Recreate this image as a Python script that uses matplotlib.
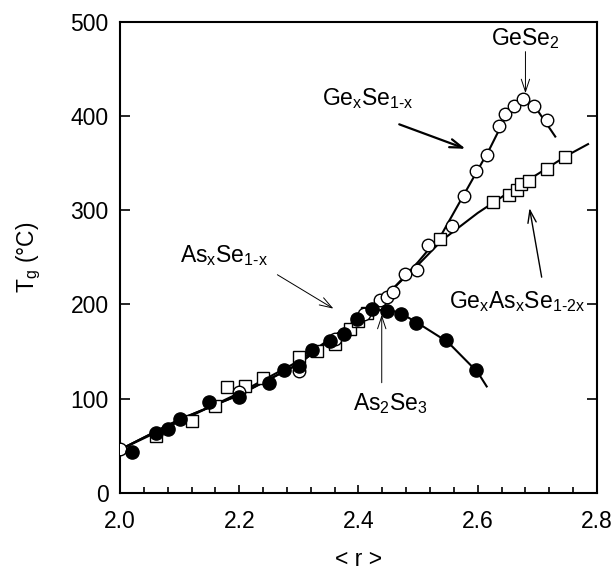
import matplotlib
matplotlib.use("Agg")
import matplotlib.pyplot as plt
import numpy as np

plt.rcParams['font.family'] = ['Liberation Sans', 'DejaVu Sans']
plt.rcParams['mathtext.fontset'] = 'custom'
plt.rcParams['mathtext.rm'] = 'Liberation Sans'
plt.rcParams['mathtext.it'] = 'Liberation Sans'

# As-Se glasses (filled circles)
asse_r = [2.02, 2.06, 2.08, 2.10, 2.15, 2.20, 2.25, 2.275, 2.30, 2.322, 2.352,
          2.375, 2.398, 2.422, 2.447, 2.472, 2.497, 2.546, 2.597]
asse_tg = [44, 64, 68, 78, 96, 102, 117, 130, 135, 152, 161,
           169, 185, 195, 193, 190, 180, 162, 130]

# Ge-Se glasses (open circles)
gese_r = [2.00, 2.20, 2.30, 2.36, 2.41, 2.436, 2.447, 2.458, 2.478, 2.498, 2.517,
          2.557, 2.577, 2.597, 2.616, 2.636, 2.645, 2.660, 2.676, 2.695, 2.716]
gese_tg = [47, 107, 129, 163, 190, 205, 208, 213, 232, 237, 263,
           283, 315, 341, 358, 389, 402, 410, 418, 410, 396]

# Ge-As-Se glasses (open squares)
geasse_r = [2.06, 2.12, 2.16, 2.18, 2.21, 2.24, 2.30, 2.33, 2.36, 2.385, 2.40, 2.415,
            2.537, 2.626, 2.653, 2.665, 2.672, 2.686, 2.716, 2.746]
geasse_tg = [60, 76, 92, 112, 113, 122, 144, 151, 158, 174, 182, 191,
             269, 309, 316, 321, 328, 331, 344, 356]

# guide curves
asse_fit_r = [2.00, 2.10, 2.20, 2.30, 2.38, 2.42, 2.445, 2.47, 2.50, 2.55, 2.60, 2.615]
asse_fit_tg = [46, 78, 104, 137, 176, 192, 195, 191, 180, 160, 128, 113]
gese_fit_r = [2.00, 2.10, 2.20, 2.30, 2.38, 2.42, 2.46, 2.50, 2.54, 2.58, 2.62, 2.65,
              2.676, 2.70, 2.73]
gese_fit_tg = [46, 78, 104, 137, 176, 195, 218, 245, 275, 320, 365, 403,
               418, 406, 378]
geasse_fit_r = [2.00, 2.20, 2.30, 2.40, 2.45, 2.50, 2.54, 2.60, 2.65, 2.70, 2.75, 2.785]
geasse_fit_tg = [46, 106, 140, 185, 212, 242, 268, 297, 318, 338, 358, 370]

fig = plt.figure(figsize=(6.12, 5.71), dpi=100)
ax = fig.add_axes([0.196, 0.1366, 0.7795, 0.8257])

ax.plot(asse_fit_r, asse_fit_tg, color='black', lw=1.5, zorder=1)
ax.plot(gese_fit_r, gese_fit_tg, color='black', lw=1.5, zorder=1)
ax.plot(geasse_fit_r, geasse_fit_tg, color='black', lw=1.5, zorder=1)

ax.plot(geasse_r, geasse_tg, 's', ms=8.5, mfc='white', mec='black', mew=1.0, ls='none', zorder=2)
ax.plot(gese_r, gese_tg, 'o', ms=9, mfc='white', mec='black', mew=1.0, ls='none', zorder=3)
ax.plot(asse_r, asse_tg, 'o', ms=9.5, mfc='black', mec='black', ls='none', zorder=4)

fs = 16.5
thin = dict(arrowstyle='->, head_length=0.9, head_width=0.3', lw=0.7, color='black')
ax.text(2.175, 252, 'As$_\\mathrm{x}$Se$_\\mathrm{1\\text{-}x}$', ha='center', va='center',
        fontsize=fs)
ax.annotate('', xy=(2.362, 194), xytext=(2.26, 233), arrowprops=thin)
ax.text(2.338, 418, 'Ge$_\\mathrm{x}$Se$_\\mathrm{1\\text{-}x}$', ha='left', va='center',
        fontsize=fs)
ax.annotate('', xy=(2.584, 364), xytext=(2.464, 392),
            arrowprops=dict(arrowstyle='->, head_length=0.9, head_width=0.3', lw=1.6,
                            color='black'))
ax.text(2.68, 482, 'GeSe$_\\mathrm{2}$', ha='center', va='center', fontsize=fs)
ax.annotate('', xy=(2.68, 421), xytext=(2.68, 471), arrowprops=thin)
ax.text(2.552, 203, 'Ge$_\\mathrm{x}$As$_\\mathrm{x}$Se$_\\mathrm{1\\text{-}2x}$', ha='left',
        va='center', fontsize=fs)
ax.annotate('', xy=(2.686, 305), xytext=(2.708, 226),
            arrowprops=dict(arrowstyle='->, head_length=0.9, head_width=0.3', lw=1.0,
                            color='black'))
ax.text(2.453, 95, 'As$_\\mathrm{2}$Se$_\\mathrm{3}$', ha='center', va='center', fontsize=fs)
ax.annotate('', xy=(2.439, 192), xytext=(2.439, 114), arrowprops=thin)

ax.set_xlim(2.0, 2.8)
ax.set_ylim(0, 500)
ax.set_xticks(np.arange(2.0, 2.81, 0.2))
ax.set_xticks(np.arange(2.04, 2.8, 0.04), minor=True)
ax.set_xticklabels(['2.0', '2.2', '2.4', '2.6', '2.8'])
ax.set_yticks([0, 100, 200, 300, 400, 500])
ax.tick_params(axis='x', which='major', direction='in', length=6, width=1.2,
               labelsize=fs, pad=12, top=False)
ax.tick_params(axis='x', which='minor', direction='in', length=4, width=1.2, top=False)
ax.tick_params(axis='y', direction='in', length=7, width=1.2, labelsize=fs, pad=8,
               right=True)
for s in ax.spines.values():
    s.set_linewidth(1.5)

ax.set_xlabel('< r >', fontsize=fs, labelpad=11)
ax.set_ylabel('T$_\\mathrm{g}$ (°C)', fontsize=fs, labelpad=20)

fig.savefig('out.png', dpi=100)
